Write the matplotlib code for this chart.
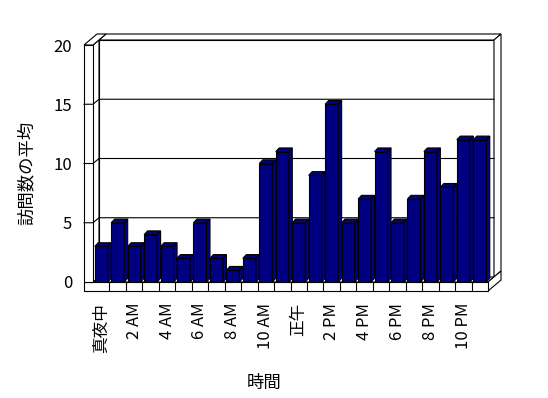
import matplotlib
matplotlib.use('Agg')
import matplotlib.pyplot as plt
from matplotlib.patches import Polygon

plt.rcParams['font.family'] = ['Noto Sans CJK JP', 'DejaVu Sans']

# average visits per hour of day
visits = [3, 5, 3, 4, 3, 2, 5, 2, 1, 2, 10, 11, 5, 9, 15, 5, 7, 11, 5, 7, 11, 8, 12, 12]
hour_labels = ['真夜中', '2 AM', '4 AM', '6 AM', '8 AM', '10 AM',
               '正午', '2 PM', '4 PM', '6 PM', '8 PM', '10 PM']
y_ticks = [0, 5, 10, 15, 20]
grid_levels = [5, 10, 15]

W, H = 548, 398
NAVY = '#000080'
LW = 0.8

fig = plt.figure(figsize=(W / 100, H / 100), dpi=100)
# front plane of the 3-D box, in pixels: x 93..488, y 45..282
ax = fig.add_axes([93 / W, (H - 282) / H, 395 / W, 237 / H])
n = len(visits)
ymax = y_ticks[-1]
ax.set_xlim(-0.5, n - 0.5)
ax.set_ylim(0, ymax)
ax.set_facecolor('none')
for s in ax.spines.values():
    s.set_visible(False)

# pixel -> data unit
sx = n / 395.0
sy = ymax / 237.0

x0, x1 = -0.5, n - 0.5
d1x, d1y = 6 * sx, 5 * sy      # depth to back wall face
dtx, dty = 13 * sx, 11 * sy    # depth incl. wall thickness
tw = 9 * sx                    # left wall thickness
ft = 9 * sy                    # floor thickness


def face(pts, fc='white', z=1):
    ax.add_patch(Polygon(pts, closed=True, fc=fc, ec='black', lw=LW,
                         clip_on=False, joinstyle='miter', zorder=z))


# back wall
face([(x0 + d1x, d1y), (x1 + d1x, d1y), (x1 + d1x, ymax + d1y), (x0 + d1x, ymax + d1y)])
face([(x0 + d1x, ymax + d1y), (x1 + d1x, ymax + d1y), (x1 + dtx, ymax + dty), (x0 + dtx, ymax + dty)])
face([(x1 + d1x, d1y), (x1 + dtx, dty), (x1 + dtx, ymax + dty), (x1 + d1x, ymax + d1y)])

# floor
face([(x0, 0), (x1, 0), (x1 + d1x, d1y), (x0 + d1x, d1y)])
face([(x1, 0), (x1, -ft), (x1 + dtx, dty - ft), (x1 + dtx, dty)])
face([(x0 - tw, 0), (x1, 0), (x1, -ft), (x0 - tw, -ft)])
for k in range(n - 1):
    ax.plot([k + 0.5, k + 0.5], [0, -ft], color='black', lw=LW, clip_on=False, zorder=1)

# left wall
face([(x0, 0), (x0 + d1x, d1y), (x0 + d1x, ymax + d1y), (x0, ymax)])
face([(x0 - tw, 0), (x0, 0), (x0, ymax), (x0 - tw, ymax)])
face([(x0 - tw, ymax), (x0, ymax), (x0 + dtx, ymax + dty), (x0 - tw + dtx, ymax + dty)])

# gridlines
for v in grid_levels:
    ax.plot([x0 - tw, x0, x0 + d1x, x1 + d1x], [v, v, v + d1y, v + d1y],
            color='black', lw=LW, clip_on=False, zorder=1.5)

# bars
bw = 0.79
bdx, bdy = 3.5 * sx, 3.7 * sy
bars = ax.bar(range(n), visits, width=bw, color=NAVY, edgecolor='black', lw=LW)
for i, (rect, v) in enumerate(zip(bars, visits)):
    z = 3 + i * 0.01
    rect.set_zorder(z)
    l = i - bw / 2
    r = i + bw / 2
    face([(l, v), (r, v), (r + bdx, v + bdy), (l + bdx, v + bdy)], fc=NAVY, z=z)
    face([(r, 0), (r, v), (r + bdx, v + bdy), (r + bdx, bdy)], fc=NAVY, z=z)

ax.set_yticks(y_ticks)
ax.set_yticklabels([str(t) for t in y_ticks], fontsize=12)
ax.set_xticks(range(0, n, 2))
ax.set_xticklabels(hour_labels, rotation=90, fontsize=12)
ax.tick_params(axis='both', length=0, pad=15)

ax.text((264 - 93) / 395, (282 - 383) / 237, '時間', transform=ax.transAxes,
        ha='center', va='center', fontsize=12.5)
ax.text((27 - 93) / 395, (282 - 173) / 237, '訪問数の平均', transform=ax.transAxes,
        ha='center', va='center', rotation=90, fontsize=12.5)

fig.savefig('out.png', dpi=100, facecolor='white')
